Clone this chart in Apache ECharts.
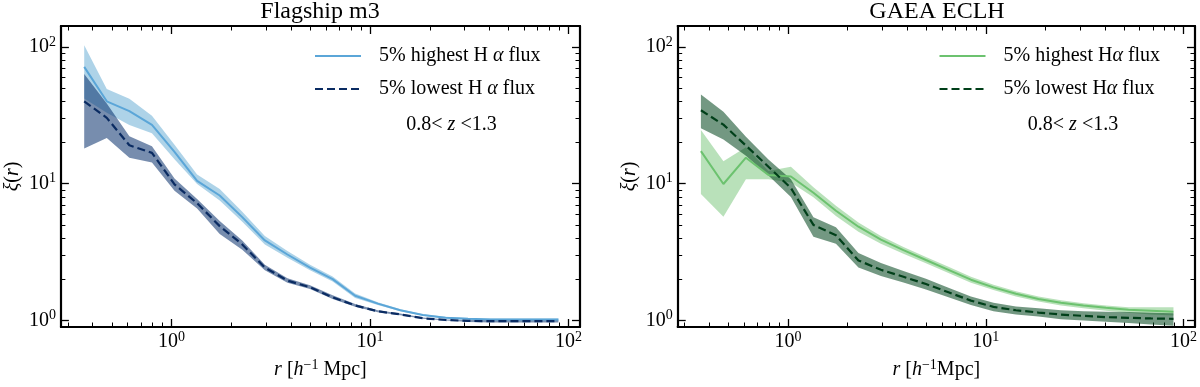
<!DOCTYPE html>
<html><head><meta charset="utf-8">
<script src="https://cdn.jsdelivr.net/npm/echarts@6/dist/echarts.min.js"></script>
<style>html,body{margin:0;padding:0;background:#fff}#c{width:1200px;height:387px}</style>
</head><body><div id="c"></div>
<script>
// ---- data ----
const r = [0.3626, 0.4712, 0.6124, 0.7959, 1.034, 1.344, 1.747, 2.270, 2.950, 3.834, 4.983, 6.476, 8.414, 10.94, 14.21, 18.47, 24.00, 31.19, 40.53, 52.68, 68.46, 88.97];

const flagHigh   = [71.4, 40.0, 33.9, 26.9, 17.1, 10.5, 8.2, 5.7, 3.85, 3.04, 2.44, 2.01, 1.52, 1.33, 1.19, 1.10, 1.05, 1.03, 1.02, 1.02, 1.02, 1.02];
const flagHighHi = [102.7, 49.3, 41.8, 31.4, 19.3, 11.7, 9.17, 6.23, 4.15, 3.22, 2.56, 2.10, 1.58, 1.36, 1.21, 1.115, 1.065, 1.045, 1.035, 1.035, 1.035, 1.035];
const flagHighLo = [42.0, 33.0, 26.9, 23.4, 15.1, 9.95, 7.55, 5.28, 3.60, 2.88, 2.33, 1.93, 1.46, 1.30, 1.17, 1.085, 1.035, 1.015, 1.005, 1.005, 1.005, 1.005];

const flagLow   = [40.0, 30.3, 19.1, 16.8, 9.9, 7.2, 4.9, 3.6, 2.44, 1.96, 1.75, 1.48, 1.29, 1.17, 1.11, 1.04, 1.01, 0.995, 0.99, 0.99, 0.99, 0.99];
const flagLowHi = [63.2, 38.5, 22.2, 18.8, 10.9, 7.75, 5.35, 3.85, 2.56, 2.04, 1.81, 1.53, 1.32, 1.19, 1.125, 1.055, 1.02, 1.01, 1.01, 1.01, 1.01, 1.01];
const flagLowLo = [18.1, 21.6, 15.5, 14.3, 8.9, 6.6, 4.3, 3.3, 2.33, 1.89, 1.70, 1.44, 1.26, 1.15, 1.095, 1.03, 1.0, 0.975, 0.97, 0.97, 0.97, 0.97];

const gaeaHigh   = [17.3, 9.95, 15.5, 11.6, 11.3, 8.6, 6.35, 4.85, 3.9, 3.27, 2.77, 2.35, 1.99, 1.75, 1.57, 1.44, 1.35, 1.29, 1.24, 1.20, 1.18, 1.16];
const gaeaHighHi = [24.7, 14.6, 18.5, 12.4, 13.3, 9.42, 6.9, 5.2, 4.15, 3.45, 2.92, 2.47, 2.09, 1.83, 1.64, 1.50, 1.41, 1.34, 1.29, 1.25, 1.25, 1.25];
const gaeaHighLo = [8.43, 5.73, 10.8, 10.8, 10.2, 7.98, 5.8, 4.45, 3.65, 3.08, 2.62, 2.23, 1.89, 1.67, 1.50, 1.38, 1.29, 1.23, 1.18, 1.14, 1.11, 1.09];

const gaeaLow   = [34.4, 27.0, 19.0, 13.3, 9.3, 5.0, 4.2, 2.75, 2.35, 2.09, 1.85, 1.61, 1.40, 1.26, 1.19, 1.145, 1.107, 1.083, 1.06, 1.048, 1.037, 1.03];
const gaeaLowHi = [44.9, 33.5, 22.0, 15.0, 10.8, 5.7, 4.8, 3.12, 2.63, 2.30, 2.02, 1.74, 1.50, 1.35, 1.27, 1.23, 1.19, 1.17, 1.16, 1.155, 1.14, 1.13];
const gaeaLowLo = [25.4, 21.0, 16.0, 11.5, 8.0, 4.1, 3.65, 2.44, 2.12, 1.90, 1.69, 1.48, 1.30, 1.17, 1.11, 1.07, 1.025, 1.0, 0.98, 0.96, 0.935, 0.918];

const majorTicks = [1, 10, 100];
const xMinorTicks = [0.3, 0.4, 0.5, 0.6, 0.7, 0.8, 0.9, 2, 3, 4, 5, 6, 7, 8, 9, 20, 30, 40, 50, 60, 70, 80, 90];
const yMinorTicks = [2, 3, 4, 5, 6, 7, 8, 9, 20, 30, 40, 50, 60, 70, 80, 90];

const X_MIN = 0.2767, X_MAX = 114.3;
const Y_MIN = 0.898, Y_MAX = 142;

// ---- styling ----
const F = '"Liberation Serif", "DejaVu Serif", serif';
const FS = 20;
const richBase = {
  b: { fontFamily: F, fontSize: FS, lineHeight: 24, color: '#000' },
  s: { fontFamily: F, fontSize: 14, lineHeight: 11, verticalAlign: 'top', color: '#000' },
  i: { fontFamily: F, fontSize: FS, lineHeight: 24, fontStyle: 'italic', color: '#000' },
  g: { fontFamily: F, fontSize: FS, lineHeight: 24, width: 13 }
};
const powFmt = v => '{b|10}{s|' + Math.round(Math.log10(v)) + '}';

const frame = { show: true, onZero: false, lineStyle: { color: '#000', width: 2.2 } };
const majT = { show: true, inside: true, length: 8, customValues: majorTicks, lineStyle: { color: '#000', width: 1.3 } };

function xAxes(g, name) {
  const base = { type: 'log', logBase: 10, gridIndex: g, min: X_MIN, max: X_MAX, splitLine: { show: false }, minorTick: { show: false } };
  const minT = { show: true, inside: true, length: 4.5, customValues: xMinorTicks, lineStyle: { color: '#000', width: 1 } };
  return [
    Object.assign({}, base, { position: 'bottom', axisLine: frame, axisTick: majT,
      axisLabel: { show: true, customValues: majorTicks, margin: 3, formatter: powFmt, rich: richBase },
      name: name, nameLocation: 'middle', nameGap: 31,
      nameTextStyle: { fontFamily: F, fontSize: FS, lineHeight: 24, color: '#000', rich: richBase } }),
    Object.assign({}, base, { position: 'bottom', axisLine: { show: false }, axisTick: minT, axisLabel: { show: false } }),
    Object.assign({}, base, { position: 'top', axisLine: frame, axisTick: majT, axisLabel: { show: false } }),
    Object.assign({}, base, { position: 'top', axisLine: { show: false }, axisTick: minT, axisLabel: { show: false } })
  ];
}
function yAxes(g) {
  const base = { type: 'log', logBase: 10, gridIndex: g, min: Y_MIN, max: Y_MAX, splitLine: { show: false }, minorTick: { show: false } };
  const minT = { show: true, inside: true, length: 4.5, customValues: yMinorTicks, lineStyle: { color: '#000', width: 1 } };
  return [
    Object.assign({}, base, { position: 'left', axisLine: frame, axisTick: majT,
      axisLabel: { show: true, customValues: majorTicks, margin: 5, formatter: powFmt, rich: richBase },
      name: '{i|ξ}({i|r})', nameLocation: 'middle', nameGap: 32, nameRotate: 90,
      nameTextStyle: { fontFamily: F, fontSize: FS, lineHeight: 24, color: '#000', rich: richBase } }),
    Object.assign({}, base, { position: 'left', axisLine: { show: false }, axisTick: minT, axisLabel: { show: false } }),
    Object.assign({}, base, { position: 'right', axisLine: frame, axisTick: majT, axisLabel: { show: false } }),
    Object.assign({}, base, { position: 'right', axisLine: { show: false }, axisTick: minT, axisLabel: { show: false } })
  ];
}

function band(ai, lo, hi, color) {
  return {
    type: 'custom', xAxisIndex: ai, yAxisIndex: ai, silent: true, animation: false,
    data: r.map((x, i) => [x, lo[i], hi[i]]),
    encode: { x: 0, y: [1, 2] },
    renderItem: (params, api) => {
      if (params.dataIndex !== 0) return null;
      const pts = [];
      for (let i = 0; i < r.length; i++) pts.push(api.coord([r[i], hi[i]]));
      for (let i = r.length - 1; i >= 0; i--) pts.push(api.coord([r[i], lo[i]]));
      return { type: 'polygon', shape: { points: pts }, style: { fill: color } };
    }
  };
}
function line(ai, name, vals, color, dashed) {
  return {
    type: 'line', name: name, xAxisIndex: ai, yAxisIndex: ai, animation: false,
    data: r.map((x, i) => [x, vals[i]]), symbol: 'emptyCircle', symbolSize: 0, showSymbol: false,
    lineStyle: { color: color, width: dashed ? 2.2 : 2, type: dashed ? [8, 4] : 'solid' },
    itemStyle: { color: color }
  };
}

const nL1 = '5% highest H α flux', nL2 = '5% lowest H α flux';
const nR1 = '5% highest Hα flux', nR2 = '5% lowest Hα flux';

const cFlagL = '#5ba6d8', cFlagD = '#0a2b62', cGaeaL = '#6cc26f', cGaeaD = '#003f19';

function legend(names, left) {
  return {
    data: names, left: left, top: 44, orient: 'vertical', padding: 0,
    itemWidth: 46, itemHeight: 14, itemGap: 9, selectedMode: false,
    itemStyle: { opacity: 0, borderWidth: 0, color: 'rgba(0,0,0,0)', borderColor: 'rgba(0,0,0,0)' },
    formatter: n => '{g| }' + n.replace('α', '{i|α}'),
    textStyle: { fontFamily: F, fontSize: FS, lineHeight: 24, color: '#000', rich: richBase }
  };
}

const option = {
  animation: false,
  backgroundColor: '#fff',
  grid: [
    { left: 60.7, top: 26, width: 519.3, height: 306 },
    { left: 677.7, top: 26, width: 519, height: 306 }
  ],
  xAxis: xAxes(0, '{i|r} [{i|h}{s|−1} Mpc]').concat(xAxes(1, '{i|r} [{i|h}{s|−1}Mpc]')),
  yAxis: yAxes(0).concat(yAxes(1)),
  legend: [legend([nL1, nL2], 314), legend([nR1, nR2], 938.5)],
  series: [
    band(0, flagHighLo, flagHighHi, 'rgba(107,174,214,0.55)'),
    line(0, nL1, flagHigh, cFlagL, false),
    band(0, flagLowLo, flagLowHi, 'rgba(8,48,107,0.55)'),
    line(0, nL2, flagLow, cFlagD, true),
    band(4, gaeaHighLo, gaeaHighHi, 'rgba(116,196,118,0.5)'),
    line(4, nR1, gaeaHigh, cGaeaL, false),
    band(4, gaeaLowLo, gaeaLowHi, 'rgba(0,68,27,0.55)'),
    line(4, nR2, gaeaLow, cGaeaD, true)
  ],
  graphic: [
    { type: 'text', x: 320, y: 12, style: { text: 'Flagship m3', fontFamily: F, fontSize: 24, fill: '#000', align: 'center', verticalAlign: 'middle' } },
    { type: 'text', x: 937, y: 12, style: { text: 'GAEA ECLH', fontFamily: F, fontSize: 24, fill: '#000', align: 'center', verticalAlign: 'middle' } },
    { type: 'text', x: 451.5, y: 125, style: { text: '0.8< {i|z} <1.3', fontFamily: F, fontSize: FS, fill: '#000', align: 'center', verticalAlign: 'middle', rich: richBase } },
    { type: 'text', x: 1073, y: 125, style: { text: '0.8< {i|z} <1.3', fontFamily: F, fontSize: FS, fill: '#000', align: 'center', verticalAlign: 'middle', rich: richBase } }
  ]
};

const chart = echarts.init(document.getElementById('c'), null, { renderer: 'canvas' });
chart.setOption(option);
</script>
</body></html>
